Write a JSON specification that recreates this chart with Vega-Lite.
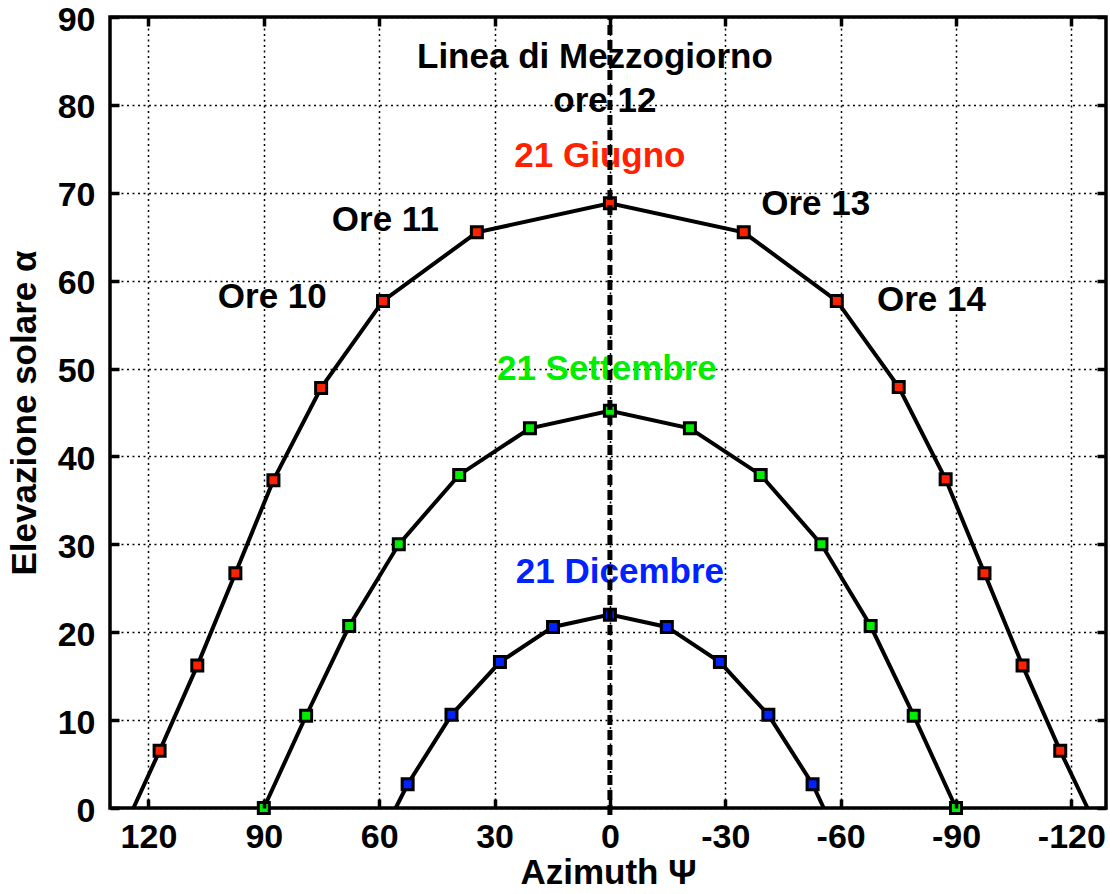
{
  "$schema": "https://vega.github.io/schema/vega-lite/v6.json",
  "autosize": "none",
  "width": 996,
  "height": 791,
  "padding": {"left": 110, "top": 17, "right": 4, "bottom": 86},
  "background": "white",
  "config": {
    "view": {"stroke": "black", "strokeWidth": 3.5},
    "font": "Liberation Sans",
    "axis": {
      "domain": false,
      "labelFont": "Liberation Sans",
      "labelFontWeight": "bold",
      "labelFontSize": 34,
      "labelColor": "black",
      "titleFont": "Liberation Sans",
      "titleFontWeight": "bold",
      "titleFontSize": 35,
      "titleColor": "black",
      "tickColor": "black",
      "tickWidth": 3.5,
      "tickSize": 9,
      "gridColor": "black",
      "gridDash": [2, 3.5],
      "gridWidth": 1.5,
      "gridOpacity": 1
    }
  },
  "datasets": {
    "paths": [
      {"date": "21 Giugno", "kind": "horizon", "az": 123.9, "el": 0},
      {"date": "21 Giugno", "kind": "hourly", "az": 117.1, "el": 6.5},
      {"date": "21 Giugno", "kind": "hourly", "az": 107.3, "el": 16.2},
      {"date": "21 Giugno", "kind": "hourly", "az": 97.4, "el": 26.7},
      {"date": "21 Giugno", "kind": "hourly", "az": 87.5, "el": 37.3},
      {"date": "21 Giugno", "kind": "hourly", "az": 75.1, "el": 47.8},
      {"date": "21 Giugno", "kind": "hourly", "az": 59.0, "el": 57.7},
      {"date": "21 Giugno", "kind": "hourly", "az": 34.6, "el": 65.5},
      {"date": "21 Giugno", "kind": "hourly", "az": 0, "el": 68.8},
      {"date": "21 Giugno", "kind": "hourly", "az": -34.8, "el": 65.5},
      {"date": "21 Giugno", "kind": "hourly", "az": -59.0, "el": 57.7},
      {"date": "21 Giugno", "kind": "hourly", "az": -75.1, "el": 47.9},
      {"date": "21 Giugno", "kind": "hourly", "az": -87.3, "el": 37.4},
      {"date": "21 Giugno", "kind": "hourly", "az": -97.4, "el": 26.7},
      {"date": "21 Giugno", "kind": "hourly", "az": -107.3, "el": 16.2},
      {"date": "21 Giugno", "kind": "hourly", "az": -117.1, "el": 6.5},
      {"date": "21 Giugno", "kind": "horizon", "az": -124.2, "el": 0},
      {"date": "21 Settembre", "kind": "hourly", "az": 90.0, "el": 0},
      {"date": "21 Settembre", "kind": "hourly", "az": 79.0, "el": 10.5},
      {"date": "21 Settembre", "kind": "hourly", "az": 67.8, "el": 20.7},
      {"date": "21 Settembre", "kind": "hourly", "az": 54.9, "el": 30.0},
      {"date": "21 Settembre", "kind": "hourly", "az": 39.2, "el": 37.9},
      {"date": "21 Settembre", "kind": "hourly", "az": 20.8, "el": 43.2},
      {"date": "21 Settembre", "kind": "hourly", "az": 0, "el": 45.2},
      {"date": "21 Settembre", "kind": "hourly", "az": -20.8, "el": 43.2},
      {"date": "21 Settembre", "kind": "hourly", "az": -39.2, "el": 37.9},
      {"date": "21 Settembre", "kind": "hourly", "az": -55.0, "el": 30.0},
      {"date": "21 Settembre", "kind": "hourly", "az": -67.8, "el": 20.7},
      {"date": "21 Settembre", "kind": "hourly", "az": -79.0, "el": 10.5},
      {"date": "21 Settembre", "kind": "hourly", "az": -90.0, "el": 0},
      {"date": "21 Dicembre", "kind": "horizon", "az": 55.7, "el": 0},
      {"date": "21 Dicembre", "kind": "hourly", "az": 52.6, "el": 2.7},
      {"date": "21 Dicembre", "kind": "hourly", "az": 41.2, "el": 10.6},
      {"date": "21 Dicembre", "kind": "hourly", "az": 28.6, "el": 16.6},
      {"date": "21 Dicembre", "kind": "hourly", "az": 14.8, "el": 20.6},
      {"date": "21 Dicembre", "kind": "hourly", "az": 0, "el": 22.0},
      {"date": "21 Dicembre", "kind": "hourly", "az": -14.8, "el": 20.6},
      {"date": "21 Dicembre", "kind": "hourly", "az": -28.6, "el": 16.6},
      {"date": "21 Dicembre", "kind": "hourly", "az": -41.2, "el": 10.6},
      {"date": "21 Dicembre", "kind": "hourly", "az": -52.7, "el": 2.7},
      {"date": "21 Dicembre", "kind": "horizon", "az": -55.6, "el": 0}
    ],
    "labels": [
      {"label": "Linea di Mezzogiorno", "group": "note", "az": 3.9, "el": 84.2},
      {"label": "ore 12", "group": "note", "az": 1.3, "el": 79.2},
      {"label": "21 Giugno", "group": "21 Giugno", "az": 2.6, "el": 72.9},
      {"label": "Ore 11", "group": "note", "az": 58.4, "el": 65.6},
      {"label": "Ore 13", "group": "note", "az": -53.5, "el": 67.5},
      {"label": "Ore 10", "group": "note", "az": 87.8, "el": 56.9},
      {"label": "Ore 14", "group": "note", "az": -83.6, "el": 56.5},
      {"label": "21 Settembre", "group": "21 Settembre", "az": 0.8, "el": 48.7},
      {"label": "21 Dicembre", "group": "21 Dicembre", "az": -2.6, "el": 25.6}
    ],
    "noon": [{"az": 0}]
  },
  "resolve": {"axis": {"x": "independent", "y": "independent"}},
  "layer": [
    {
      "data": {"name": "paths"},
      "mark": {"type": "line", "color": "black", "strokeWidth": 4},
      "encoding": {
        "x": {
          "field": "az", "type": "quantitative",
          "scale": {"domain": [130, -129], "nice": false, "zero": false},
          "axis": {"values": [120, 90, 60, 30, 0, -30, -60, -90, -120], "labelExpr": "replace(datum.label, '−', '-')", "ticks": false, "title": "Azimuth Ψ", "labelPadding": 12, "titlePadding": 1, "zindex": 0}
        },
        "y": {
          "field": "el", "type": "quantitative",
          "scale": {"domain": [0, 90], "nice": false},
          "axis": {"values": [0, 10, 20, 30, 40, 50, 60, 70, 80, 90], "ticks": false, "title": "Elevazione solare α", "labelPadding": 15, "labelOffset": 3, "titlePadding": 15, "zindex": 0}
        },
        "detail": {"field": "date"},
        "order": {"field": "az", "sort": "descending"}
      }
    },
    {
      "mark": {"type": "rect", "fill": "white"},
      "encoding": {
        "x": {"datum": 88.5, "type": "quantitative", "scale": {"domain": [130, -129], "nice": false, "zero": false}, "axis": null},
        "x2": {"datum": -81},
        "y": {"datum": 77.4, "type": "quantitative", "scale": {"domain": [0, 90], "nice": false}, "axis": null},
        "y2": {"datum": 89.5}
      }
    },
    {
      "data": {"name": "paths"},
      "transform": [{"filter": "datum.kind === 'hourly'"}],
      "mark": {"type": "point", "shape": "square", "filled": true, "size": 121, "stroke": "black", "strokeWidth": 3, "opacity": 1},
      "encoding": {
        "x": {
          "field": "az", "type": "quantitative",
          "axis": {"orient": "bottom", "values": [120, 90, 60, 30, 0, -30, -60, -90, -120], "labels": false, "grid": false, "title": null, "offset": -9, "zindex": 1}
        },
        "y": {
          "field": "el", "type": "quantitative",
          "axis": {"orient": "left", "values": [0, 10, 20, 30, 40, 50, 60, 70, 80, 90], "labels": false, "grid": false, "title": null, "offset": -9, "zindex": 1}
        },
        "fill": {
          "field": "date", "type": "nominal",
          "scale": {"domain": ["21 Giugno", "21 Settembre", "21 Dicembre", "note"], "range": ["#ff2200", "#00ee00", "#0022ff", "#000000"]},
          "legend": null
        }
      }
    },
    {
      "data": {"name": "labels"},
      "mark": {"type": "text", "font": "Liberation Sans", "fontWeight": "bold", "fontSize": 35, "align": "center", "baseline": "alphabetic"},
      "encoding": {
        "x": {"field": "az", "type": "quantitative", "axis": null},
        "y": {"field": "el", "type": "quantitative", "axis": null},
        "text": {"field": "label"},
        "fill": {"field": "group", "type": "nominal", "legend": null}
      }
    },
    {
      "data": {"name": "noon"},
      "mark": {"type": "rule", "color": "black", "strokeWidth": 5, "strokeDash": [10, 5]},
      "encoding": {
        "x": {
          "field": "az", "type": "quantitative",
          "axis": {"orient": "top", "values": [120, 90, 60, 30, 0, -30, -60, -90, -120], "labels": false, "grid": false, "title": null, "offset": -9, "zindex": 1}
        },
        "y": {
          "datum": -0.8, "type": "quantitative",
          "axis": {"orient": "right", "values": [0, 10, 20, 30, 40, 50, 60, 70, 80, 90], "labels": false, "grid": false, "title": null, "offset": -9, "zindex": 1}
        },
        "y2": {"datum": 90}
      }
    }
  ]
}
